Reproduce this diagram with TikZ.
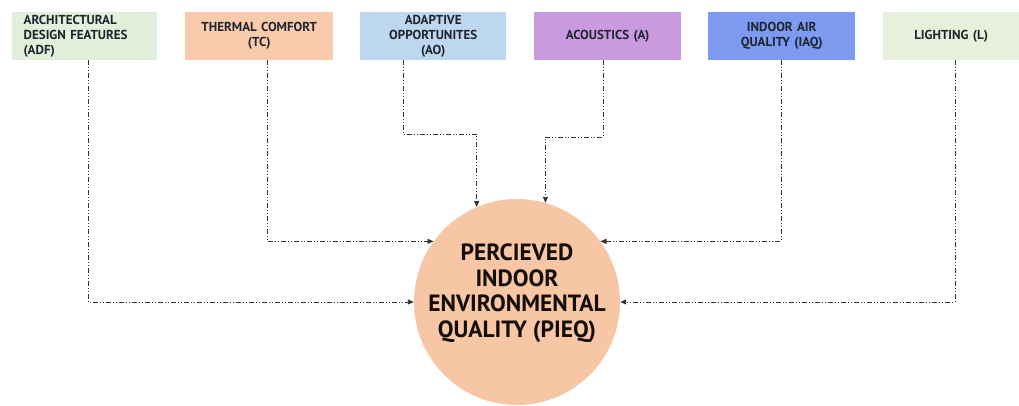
\documentclass[tikz,border=0pt]{standalone}
\usepackage{fontspec}
\setmainfont{PT Sans}
\usetikzlibrary{arrows.meta}
\definecolor{cADF}{HTML}{E2EFDA}
\definecolor{cTC}{HTML}{F8CBAD}
\definecolor{cAO}{HTML}{BDD7EE}
\definecolor{cA}{HTML}{C99ADF}
\definecolor{cIAQ}{HTML}{7B9AF0}
\definecolor{cL}{HTML}{E6F0DB}
\definecolor{cP}{HTML}{F7C6A5}
\definecolor{txt}{HTML}{1E2530}
\definecolor{ln}{HTML}{333333}
\tikzset{
  factor/.style={rectangle, minimum width=146pt, minimum height=48pt, inner sep=2pt,
    anchor=north west, font=\bfseries\fontsize{13}{15}\selectfont, text=txt, align=center, text width=140pt},
  conn/.style={draw=ln, line width=0.9pt, dash pattern=on 5pt off 2pt on 1pt off 2pt on 1pt off 2pt,
    -{Stealth[length=6pt,width=5pt,inset=0pt]}},
}
\begin{document}
\begin{tikzpicture}[x=1pt,y=-1pt]
\useasboundingbox (0,0) rectangle (1019,405);
\node[factor, fill=cADF, minimum width=145pt, align=left, text width=122pt] (adf) at (12,12) {ARCHITECTURAL\\DESIGN FEATURES\\(ADF)};
\node[factor, fill=cTC, minimum width=148pt] (tc) at (185,12) {THERMAL COMFORT\\(TC)};
\node[factor, fill=cAO] (ao) at (360,12) {ADAPTIVE\\OPPORTUNITES\\(AO)};
\node[factor, fill=cA, minimum width=147pt] (a) at (534,12) {ACOUSTICS (A)};
\node[factor, fill=cIAQ, minimum width=147pt] (iaq) at (708,12) {INDOOR AIR\\QUALITY (IAQ)};
\node[factor, fill=cL, minimum width=136pt, text width=130pt] (l) at (883,12) {LIGHTING (L)};
\node[circle, fill=cP, minimum size=206pt, inner sep=0pt] (pieq) at (517,302) {};
\node[align=center, text=black!90!brown, inner sep=0pt,
  font=\bfseries\fontsize{23.5}{25.5}\selectfont] (pieqtext) at ([yshift=9pt]pieq.center) {PERCIEVED\\INDOOR\\ENVIRONMENTAL\\QUALITY (PIEQ)};
\coordinate (adfb) at (88,60);
\coordinate (tcb) at (267,60);
\coordinate (aob) at (403,60);
\coordinate (ab) at (603,60);
\coordinate (iaqb) at (781,60);
\coordinate (lb) at (955,60);
\draw[conn] (adfb) |- (pieq.west);
\draw[conn] (tcb) |- (pieq.144);
\draw[conn] (aob) -- (aob |- 0,134) -| (pieq.113);
\draw[conn] (ab) -- (ab |- 0,137) -| (pieq.74);
\draw[conn] (iaqb) |- (pieq.36);
\draw[conn] (lb) |- (pieq.east);
\end{tikzpicture}
\end{document}
